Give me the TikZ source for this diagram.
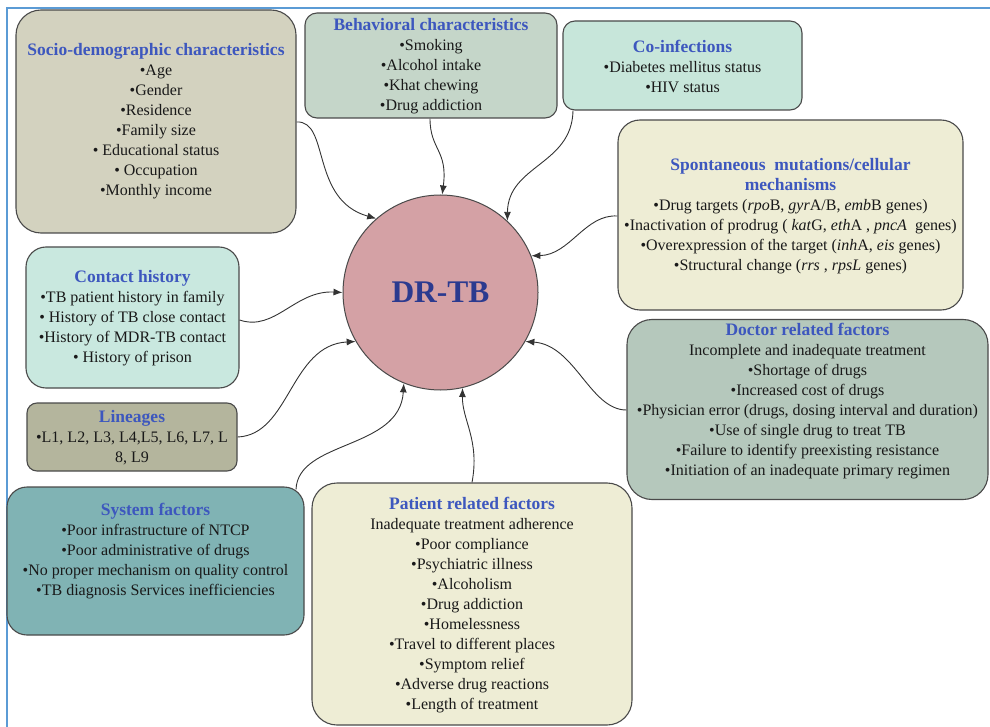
\documentclass[tikz,border=0pt]{standalone}
\usepackage{fontspec}
\setmainfont{Liberation Serif}
\usetikzlibrary{arrows.meta,calc}

\definecolor{frameblue}{HTML}{5B9BD5}
\definecolor{boxline}{HTML}{4A4A4A}
\definecolor{linkgray}{HTML}{333333}
\definecolor{titleblue}{HTML}{3D57BE}
\definecolor{drblue}{HTML}{2B3A8F}
\definecolor{socfill}{HTML}{D3D2BF}
\definecolor{behfill}{HTML}{C5D6C9}
\definecolor{coifill}{HTML}{C7E6DA}
\definecolor{paleyellow}{HTML}{EEEDD5}
\definecolor{confill}{HTML}{C9E8DF}
\definecolor{linfill}{HTML}{B4B59D}
\definecolor{docfill}{HTML}{B5C8BC}
\definecolor{sysfill}{HTML}{80B3B4}
\definecolor{circfill}{HTML}{D4A1A5}

\newcommand\boxtitle[1]{{\fontsize{17.5}{20}\selectfont\bfseries\color{titleblue}#1}}

\begin{document}
\begin{tikzpicture}[x=1pt,y=1pt,
  box/.style={draw=boxline, line width=1.1pt, rounded corners=#1, inner sep=0pt},
  box/.default=20pt,
  txt/.style={align=center, inner sep=0pt, text=black!90,
              font=\fontsize{16}{20}\selectfont},
  link/.style={draw=linkgray, line width=0.9pt, -{Latex[length=9pt,width=7pt]}}
]
\useasboundingbox (0,0) rectangle (990,-727);

% page frame
\draw[frameblue, line width=1.8pt] (990,-8) -- (7,-8) -- (7,-727);

% factor boxes
\node[box=25pt, fill=socfill,    minimum width=280pt, minimum height=223pt] (soc) at (156,-121.5) {};
\node[box=12pt, fill=behfill,    minimum width=252pt, minimum height=105pt] (beh) at (431,-65.5) {};
\node[box=12pt, fill=coifill,    minimum width=239pt, minimum height=89pt]  (coi) at (682.5,-65.5) {};
\node[box=22pt, fill=paleyellow, minimum width=345pt, minimum height=190pt] (spo) at (790.5,-215) {};
\node[box=20pt, fill=confill,    minimum width=213pt, minimum height=141pt] (con) at (132.5,-317.5) {};
\node[box=10pt, fill=linfill,    minimum width=210pt, minimum height=68pt]  (lin) at (132,-437) {};
\node[box=25pt, fill=docfill,    minimum width=361pt, minimum height=180pt] (doc) at (807.5,-409.5) {};
\node[box=20pt, fill=sysfill,    minimum width=297pt, minimum height=148pt] (sys) at (155.5,-561) {};
\node[box=25pt, fill=paleyellow, minimum width=320pt, minimum height=242pt] (pat) at (472,-604) {};

% box texts
\node[txt] (soct) at (156,-121.5) {\boxtitle{Socio-demographic characteristics}\\
  •Age\\ •Gender\\ •Residence\\ •Family size\\ • Educational status\\ • Occupation\\ •Monthly income};
\node[txt] (beht) at (431,-66.5) {\boxtitle{Behavioral characteristics}\\
  •Smoking\\ •Alcohol intake\\ •Khat chewing\\ •Drug addiction};
\node[txt] (coit) at (682.5,-66) {\boxtitle{Co-infections}\\
  •Diabetes mellitus status\\ •HIV status};
\node[txt] (spot) at (790.5,-216.5) {\boxtitle{Spontaneous\ \ mutations/cellular}\\ \boxtitle{mechanisms}\\
  •Drug targets (\textit{rpo}B, \textit{gyr}A/B, \textit{emb}B genes)\\
  •Inactivation of prodrug ( \textit{kat}G, \textit{eth}A , \textit{pncA}\ \ genes)\\
  •Overexpression of the target (\textit{inh}A, \textit{eis} genes)\\
  •Structural change (\textit{rrs} , \textit{rpsL} genes)};
\node[txt] (cont) at (132.5,-318) {\boxtitle{Contact history}\\
  •TB patient history in family\\ • History of TB close contact\\ •History of MDR-TB contact\\ • History of prison};
\node[txt] (lint) at (132,-438) {\boxtitle{Lineages}\\
  •L1, L2, L3, L4,L5, L6, L7, L\\ 8, L9};
\node[txt] (doct) at (807.5,-401.5) {\boxtitle{Doctor related factors}\\
  Incomplete and inadequate treatment\\ •Shortage of drugs\\ •Increased cost of drugs\\
  •Physician error (drugs, dosing interval and duration)\\ •Use of single drug to treat TB\\
  •Failure to identify preexisting resistance\\ •Initiation of an inadequate primary regimen};
\node[txt] (syst) at (155.5,-551) {\boxtitle{System factors}\\
  •Poor infrastructure of NTCP\\ •Poor administrative of drugs\\
  •No proper mechanism on quality control\\ •TB diagnosis Services inefficiencies};
\node[txt] (patt) at (472,-605.5) {\boxtitle{Patient related factors}\\
  Inadequate treatment adherence\\ •Poor compliance\\ •Psychiatric illness\\ •Alcoholism\\
  •Drug addiction\\ •Homelessness\\ •Travel to different places\\ •Symptom relief\\
  •Adverse drug reactions\\ •Length of treatment};

% central node
\node[circle, draw=boxline, line width=1pt, fill=circfill, minimum size=195pt, inner sep=0pt,
      font=\fontsize{31.5}{32}\selectfont\bfseries, text=drblue] (c) at (440.5,-292.5) {DR-TB};

% connectors into the centre
\draw[link] (soc.east |- 0,-122) .. controls (330,-120) and (310,-200) .. (c.131);
\draw[link] (beh.south -| 430,0) .. controls (430,-150) and (448,-150) .. (c.89);
\draw[link] (coi.south -| 573,0) .. controls (572,-165) and (508,-165) .. (c.47);
\draw[link] (spo.west |- 0,-216) .. controls (585,-214) and (570,-255) .. (c.22);
\draw[link] (con.east |- 0,-320) .. controls (275,-332) and (295,-290) .. (c.180);
\draw[link] (lin.east |- 0,-437) .. controls (290,-435) and (290,-345) .. (c.210);
\draw[link] ($(sys.north -| 296,0)+(0,-3)$) .. controls (298,-440) and (400,-450) .. (c.248);
\draw[link] (pat.north -| 472,0) .. controls (480,-440) and (462,-420) .. (c.283);
\draw[link] (doc.west |- 0,-410) .. controls (590,-410) and (575,-345) .. (c.330);
\end{tikzpicture}
\end{document}
